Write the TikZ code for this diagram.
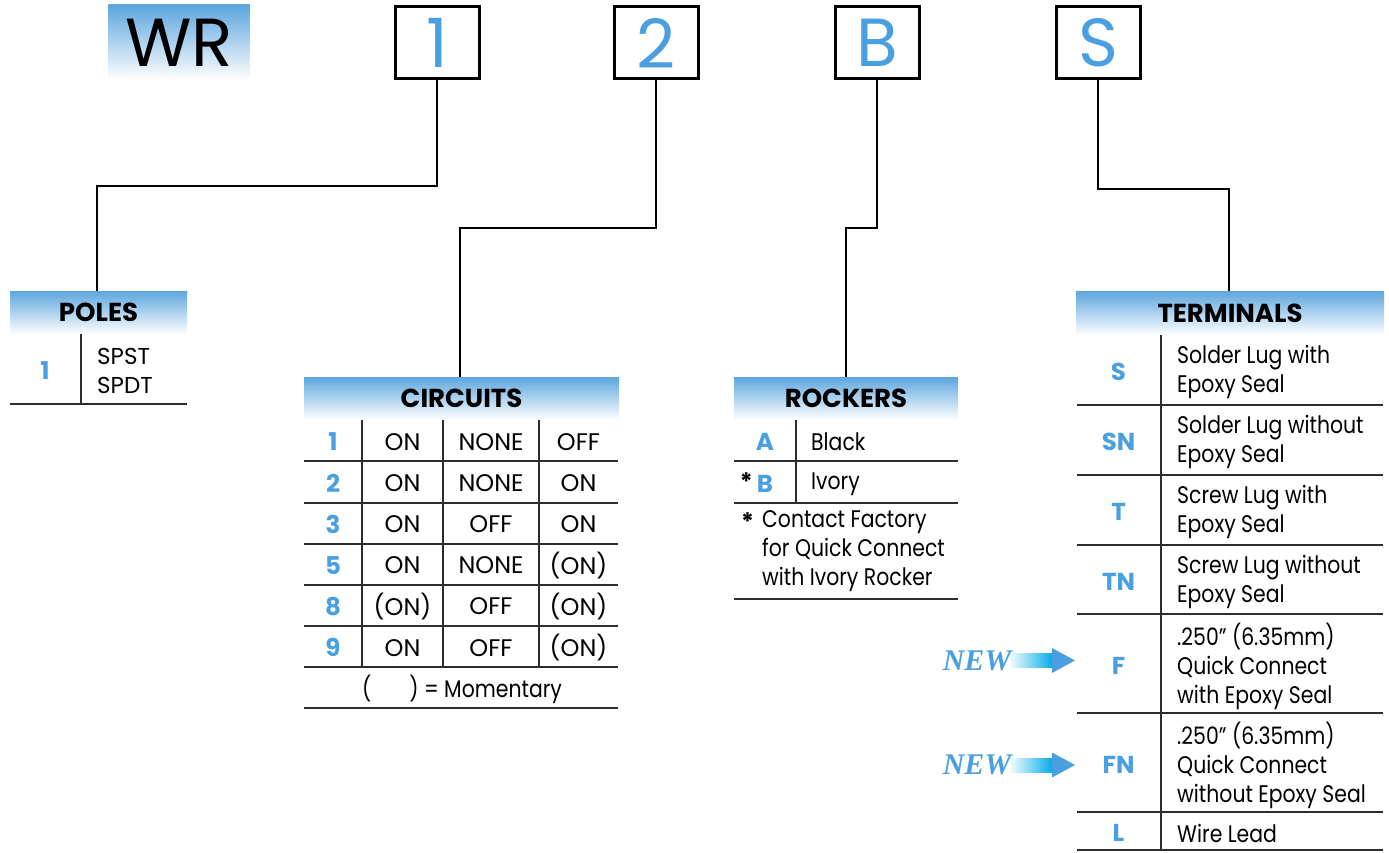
\documentclass[tikz,border=0pt]{standalone}
\usepackage{fontspec}
\setmainfont{Poppins}[FakeStretch=0.85]
\newfontfamily\capfnt{Poppins}
\newfontfamily\newfnt{Liberation Serif}
\usetikzlibrary{calc}
\definecolor{codeblue}{RGB}{74,159,224}
\definecolor{hdrblue}{RGB}{93,166,223}
\definecolor{arrcyan}{RGB}{0,170,232}
\definecolor{linegray}{RGB}{45,45,45}
\begin{document}
\begin{tikzpicture}[x=1pt,y=-1pt,
  conn/.style={draw=black, line width=1.2pt},
  rule/.style={draw=linegray, line width=1.5pt},
  hdr/.style={shading=axis, top color=hdrblue, bottom color=white, inner sep=0pt,
    minimum height=43pt, font=\capfnt\fontsize{26}{26}\selectfont\bfseries, text=black},
  topbox/.style={draw=black, line width=3pt, fill=white, minimum width=84pt, minimum height=72pt,
    inner sep=0pt, font=\capfnt\fontsize{68}{68}\selectfont, text=codeblue},
  code/.style={font=\capfnt\fontsize{24.5}{24.5}\selectfont\bfseries, text=codeblue, inner sep=0pt},
  val/.style={font=\capfnt\fontsize{24}{24}\selectfont, text=black, inner sep=0pt},
  desc/.style={font=\fontsize{24}{29}\selectfont, text=black, inner sep=0pt, anchor=west, align=left},
  newtxt/.style={font=\newfnt\fontsize{30}{30}\selectfont\bfseries\itshape, text=codeblue, inner sep=0pt}]
\useasboundingbox (0,0) rectangle (1389,853);

% top code boxes
\node[shading=axis, top color=hdrblue, bottom color=white, minimum width=141pt, minimum height=75pt,
  inner sep=0pt, font=\capfnt\fontsize{68}{68}\selectfont] (wr) at (179,42.5) {WR};
\node[topbox] (b1) at (437,43) {1};
\node[topbox] (b2) at (656,43) {2};
\node[topbox] (bB) at (877,43) {B};
\node[topbox] (bS) at (1098,43) {S};

% headers
\node[hdr, minimum width=177pt] (polesH) at (98.5,312.5) {POLES};
\node[hdr, minimum width=315pt] (circH) at (461.5,398.5) {CIRCUITS};
\node[hdr, minimum width=224pt] (rockH) at (846,398.5) {ROCKERS};
\node[hdr, minimum width=308pt, minimum height=44pt] (termH) at (1230,313) {TERMINALS};

% connectors
\coordinate (k1) at (97,186);
\coordinate (k2) at (460,228);
\coordinate (k3) at (846,228);
\coordinate (k4) at (1229,189);
\draw[conn] (b1.south) |- (k1) -- (k1 |- polesH.north);
\draw[conn] (b2.south) |- (k2) -- (k2 |- circH.north);
\draw[conn] (bB.south) |- (k3) -- (k3 |- rockH.north);
\draw[conn] (bS.south) |- (k4) -- (k4 |- termH.north);

% POLES table
\draw[rule] (10,404) -- (187,404);
\draw[rule] (81,334) -- (81,404);
\node[code] (p1) at (45,371) {1};
\node[desc, font=\capfnt\fontsize{23}{29}\selectfont] (p1d) at (97,371) {SPST\\SPDT};

% CIRCUITS table
\foreach \yy in {461,503,544,585,626,667,708} \draw[rule] (304,\yy) -- (618,\yy);
\foreach \xx in {362,443,539} \draw[rule] (\xx,420) -- (\xx,667);
\foreach \c/\a/\b/\d [count=\i] in {1/ON/NONE/OFF, 2/ON/NONE/ON, 3/ON/OFF/ON, 5/ON/NONE/(ON), 8/(ON)/OFF/(ON), 9/ON/OFF/(ON)}{
  \pgfmathsetmacro{\ry}{400.5+41.2*\i}
  \node[code] (cc\i) at (333,\ry) {\c};
  \node[val] (ca\i) at (402.5,\ry) {\a};
  \node[val] (cb\i) at (491,\ry) {\b};
  \node[val] (cd\i) at (578.5,\ry) {\d};
}
\node[desc, anchor=center] (mom) at (462,689) {(\hspace{38pt}) = Momentary};

% ROCKERS table
\foreach \yy in {461,503,599} \draw[rule] (734,\yy) -- (958,\yy);
\draw[rule] (796,420) -- (796,503);
\node[code] (rA) at (765,442) {A};
\node[desc] (rAd) at (811,442) {Black};
\node[code] (rB) at (765,484) {B};
\node[val, anchor=east, font=\capfnt\fontsize{24}{24}\selectfont\bfseries] (rBs) at (753,482) {*};
\node[desc] (rBd) at (811,484) {Ivory};
\node[val, anchor=west, font=\capfnt\fontsize{24}{24}\selectfont\bfseries] (ns) at (741,522) {*};
\node[desc, anchor=north west] (note) at (762,510) {Contact Factory\\for Quick Connect\\with Ivory Rocker};

% TERMINALS table
\foreach \yy in {405,475,545,614,713,812,850} \draw[rule] (1077,\yy) -- (1383,\yy);
\draw[rule] (1161,335) -- (1161,850);
\foreach \c/\t/\ry [count=\i] in {S/{Solder Lug with\\Epoxy Seal}/372,
  SN/{Solder Lug without\\Epoxy Seal}/442,
  T/{Screw Lug with\\Epoxy Seal}/512,
  TN/{Screw Lug without\\Epoxy Seal}/582,
  F/{.250” (6.35mm)\\Quick Connect\\with Epoxy Seal}/666,
  FN/{.250” (6.35mm)\\Quick Connect\\without Epoxy Seal}/765,
  L/{Wire Lead}/833}{
  \node[code] (t\i) at (1118.5,\ry) {\c};
  \node[desc] (td\i) at (1177,\ry) {\t};
}

% NEW arrows
\foreach \ry/\nm in {660.5/n1, 765/n2}{
  \shade[left color=white, right color=arrcyan] (1008,\ry-7) rectangle (1053,\ry+7);
  \fill[codeblue] (1052,\ry-12.5) -- (1075,\ry) -- (1052,\ry+12.5) -- cycle;
  \node[newtxt] (\nm) at (977,\ry) {NEW};
}
\end{tikzpicture}
\end{document}
